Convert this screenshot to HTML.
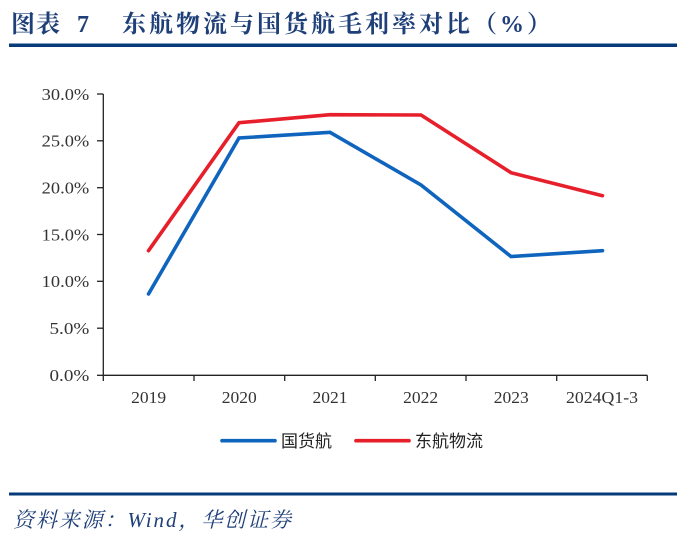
<!DOCTYPE html>
<html><head><meta charset="utf-8">
<style>
html,body{margin:0;padding:0;background:#fff;}
body{width:685px;height:543px;overflow:hidden;position:relative;}
svg{position:absolute;left:0;top:0;}
</style></head>
<body>
<svg width="685" height="543" viewBox="0 0 685 543" xmlns="http://www.w3.org/2000/svg">
  <!-- Title -->
  <g font-family="'Liberation Serif','Noto Serif CJK SC',serif" font-weight="bold" fill="#1e3f78" font-size="24">
    <text x="11" y="32" letter-spacing="1">图表</text>
    <text x="77" y="32">7</text>
    <text x="122" y="32" letter-spacing="3">东航物流与国货航毛利率对比（%）</text>
  </g>
  <rect x="9" y="43.5" width="668" height="3.5" fill="#063a7a"/>

  <!-- Axes -->
  <g stroke="#222" stroke-width="1.3" fill="none">
    <line x1="103.3" y1="94" x2="103.3" y2="375.3"/>
    <line x1="103.3" y1="375.3" x2="647.3" y2="375.3"/>
    <line x1="97" y1="94" x2="103.3" y2="94"/>
    <line x1="97" y1="140.8" x2="103.3" y2="140.8"/>
    <line x1="97" y1="187.7" x2="103.3" y2="187.7"/>
    <line x1="97" y1="234.5" x2="103.3" y2="234.5"/>
    <line x1="97" y1="281.3" x2="103.3" y2="281.3"/>
    <line x1="97" y1="328.2" x2="103.3" y2="328.2"/>
    <line x1="97" y1="375.3" x2="103.3" y2="375.3"/>
    <line x1="103.3" y1="375.3" x2="103.3" y2="381"/>
    <line x1="194" y1="375.3" x2="194" y2="381"/>
    <line x1="284.7" y1="375.3" x2="284.7" y2="381"/>
    <line x1="375.3" y1="375.3" x2="375.3" y2="381"/>
    <line x1="466" y1="375.3" x2="466" y2="381"/>
    <line x1="556.7" y1="375.3" x2="556.7" y2="381"/>
    <line x1="647.3" y1="375.3" x2="647.3" y2="381"/>
  </g>

  <!-- Y labels -->
  <g font-family="'Liberation Serif',serif" font-size="17" fill="#333" lengthAdjust="spacingAndGlyphs">
    <text x="41.7" y="99.8" textLength="47.6" lengthAdjust="spacingAndGlyphs">30.0%</text>
    <text x="41.7" y="146.6" textLength="47.6" lengthAdjust="spacingAndGlyphs">25.0%</text>
    <text x="41.7" y="193.5" textLength="47.6" lengthAdjust="spacingAndGlyphs">20.0%</text>
    <text x="41.7" y="240.3" textLength="47.6" lengthAdjust="spacingAndGlyphs">15.0%</text>
    <text x="41.7" y="287.1" textLength="47.6" lengthAdjust="spacingAndGlyphs">10.0%</text>
    <text x="49.5" y="334" textLength="39.8" lengthAdjust="spacingAndGlyphs">5.0%</text>
    <text x="49.5" y="381.1" textLength="39.8" lengthAdjust="spacingAndGlyphs">0.0%</text>
  </g>

  <!-- X labels -->
  <g font-family="'Liberation Serif',serif" font-size="17" fill="#333">
    <text x="131.2" y="402.8" textLength="35" lengthAdjust="spacingAndGlyphs">2019</text>
    <text x="221.8" y="402.8" textLength="35" lengthAdjust="spacingAndGlyphs">2020</text>
    <text x="312.5" y="402.8" textLength="35" lengthAdjust="spacingAndGlyphs">2021</text>
    <text x="403.2" y="402.8" textLength="35" lengthAdjust="spacingAndGlyphs">2022</text>
    <text x="493.8" y="402.8" textLength="35" lengthAdjust="spacingAndGlyphs">2023</text>
    <text x="566" y="402.8" textLength="72" lengthAdjust="spacingAndGlyphs">2024Q1-3</text>
  </g>

  <!-- Series -->
  <polyline points="148.5,294 239,138 330,132.3 421,185 511,256.5 602.5,250.7" fill="none" stroke="#0f64be" stroke-width="3.6" stroke-linejoin="miter" stroke-linecap="round"/>
  <polyline points="148.5,250.7 239,122.7 330,114.7 421,115 511,172.7 602.5,195.7" fill="none" stroke="#e61f2b" stroke-width="3.6" stroke-linejoin="miter" stroke-linecap="round"/>

  <!-- Legend -->
  <line x1="222" y1="440.7" x2="275" y2="440.7" stroke="#0f64be" stroke-width="3.6" stroke-linecap="round"/>
  <line x1="356" y1="440.7" x2="409" y2="440.7" stroke="#e61f2b" stroke-width="3.6" stroke-linecap="round"/>
  <g font-family="'Liberation Sans','Noto Sans CJK SC',sans-serif" font-size="17" fill="#222">
    <text x="281" y="447">国货航</text>
    <text x="415" y="447">东航物流</text>
  </g>

  <!-- Bottom rule & source -->
  <rect x="9" y="492.5" width="668" height="3" fill="#063a7a"/>
  <text x="13" y="527" font-family="'Liberation Serif','Noto Serif CJK SC',serif" font-style="italic" font-size="21" fill="#1e3f78" textLength="278" lengthAdjust="spacing">资料来源：Wind，华创证券</text>
</svg>
</body></html>
